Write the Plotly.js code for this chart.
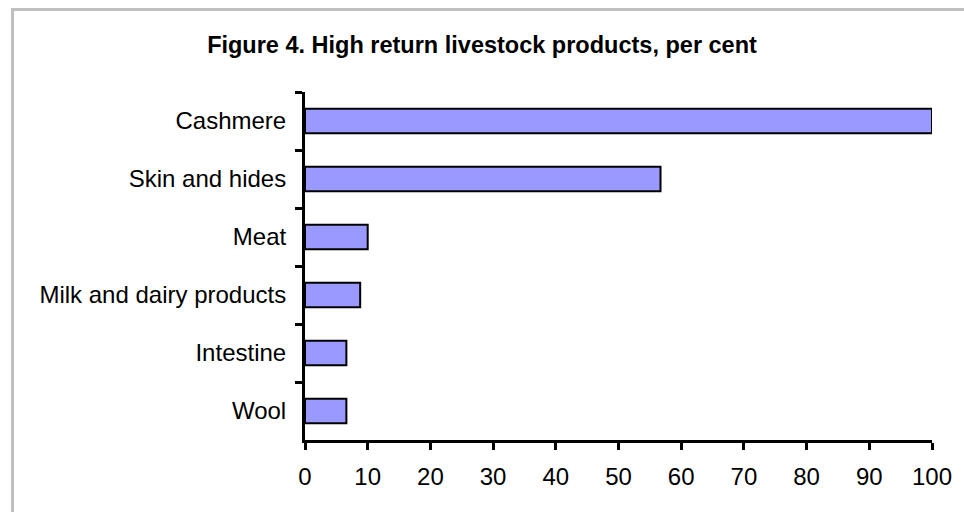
<!DOCTYPE html>
<html>
<head>
<meta charset="utf-8">
<script src="https://cdn.plot.ly/plotly-3.0.1.min.js"></script>
<style>
  html, body { margin: 0; padding: 0; width: 964px; height: 512px; overflow: hidden; background: #fff; }
  #chart { position: absolute; left: 0; top: 0; width: 964px; height: 512px; }
  #frame { position: absolute; left: 11px; top: 8px; width: 953px; height: 504px; border-left: 3px solid #c0c0c0; border-top: 3px solid #c0c0c0; pointer-events: none; box-sizing: border-box; }
</style>
</head>
<body>
<div id="chart"></div>
<div id="frame"></div>
<script>
const categories = ["Cashmere", "Skin and hides", "Meat", "Milk and dairy products", "Intestine", "Wool"];
const values = [100, 56.7, 10, 8.8, 6.6, 6.6];
const xTicks = [0, 10, 20, 30, 40, 50, 60, 70, 80, 90, 100];

const trace = {
  type: "bar",
  orientation: "h",
  x: values,
  y: categories,
  marker: { color: "#9999FF", line: { color: "#000000", width: 2 } },
  hoverinfo: "x+y"
};

const layout = {
  width: 964,
  height: 512,
  margin: { l: 305, r: 32, t: 92, b: 72, pad: 0 },
  paper_bgcolor: "rgba(0,0,0,0)",
  plot_bgcolor: "rgba(0,0,0,0)",
  font: { family: "Liberation Sans, Arial, sans-serif", size: 24, color: "#000" },
  title: {
    text: "<b>Figure 4. High return livestock products, per cent</b>",
    font: { family: "Liberation Sans, Arial, sans-serif", size: 23.5, color: "#000" },
    x: 0.5, xref: "container", xanchor: "center",
    y: 0.912, yref: "container", yanchor: "middle"
  },
  bargap: 0.58,
  showlegend: false,
  xaxis: {
    range: [0, 100],
    tickvals: xTicks,
    ticktext: xTicks.map(String),
    showgrid: false,
    zeroline: false,
    showline: true,
    linecolor: "#000",
    linewidth: 3,
    ticks: "outside",
    ticklen: 7,
    tickwidth: 3,
    tickcolor: "#000",
    ticklabelstandoff: 6,
    fixedrange: true
  },
  yaxis: {
    type: "category",
    autorange: "reversed",
    showgrid: false,
    zeroline: false,
    showline: true,
    linecolor: "#000",
    linewidth: 3,
    ticks: "outside",
    tickson: "boundaries",
    ticklen: 7,
    tickwidth: 3,
    tickcolor: "#000",
    ticklabelstandoff: 11,
    fixedrange: true
  }
};

Plotly.newPlot("chart", [trace], layout, { displayModeBar: false, staticPlot: true });
</script>
</body>
</html>
